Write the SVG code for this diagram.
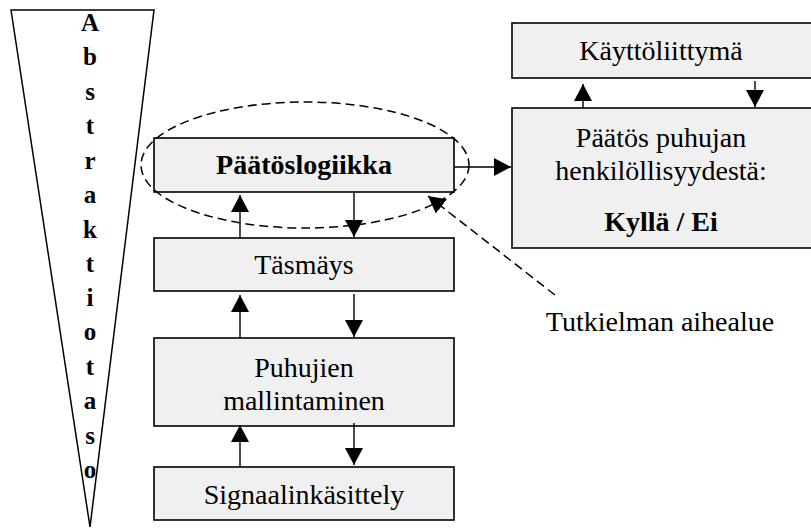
<svg xmlns="http://www.w3.org/2000/svg" width="811" height="528" viewBox="0 0 811 528">
<style>
.box{fill:#f0f0f0;stroke:#000;stroke-width:1.6}
.t{font-family:"Liberation Serif","Times New Roman",serif;font-size:28px;fill:#000;text-anchor:middle}
.b{font-weight:bold}
.v{font-family:"Liberation Serif","Times New Roman",serif;font-size:25px;font-weight:bold;fill:#000;text-anchor:middle}
.ln{stroke:#000;stroke-width:1.4;fill:none}
.dash{stroke:#000;stroke-width:1.5;fill:none;stroke-dasharray:9 5}
</style>
<defs>
<marker id="ah" markerUnits="userSpaceOnUse" markerWidth="18" markerHeight="18" viewBox="0 0 18 18" refX="17" refY="9" orient="auto">
<path d="M0,0 L17,9 L0,18 Z" fill="#000"/>
</marker>
</defs>
<rect width="811" height="528" fill="#fff"/>
<g id="abstraktiotaso">
<polygon points="11,10 154,10 90,527" fill="none" stroke="#000" stroke-width="1.5"/>
<text class="v" x="90" y="31">A</text>
<text class="v" x="90" y="65">b</text>
<text class="v" x="90" y="100">s</text>
<text class="v" x="90" y="134">t</text>
<text class="v" x="90" y="169">r</text>
<text class="v" x="90" y="203">a</text>
<text class="v" x="90" y="238">k</text>
<text class="v" x="90" y="272">t</text>
<text class="v" x="90" y="306">i</text>
<text class="v" x="90" y="340">o</text>
<text class="v" x="90" y="375">t</text>
<text class="v" x="90" y="409">a</text>
<text class="v" x="90" y="444">s</text>
<text class="v" x="90" y="478">o</text>
</g>
<g id="paatoslogiikka">
<rect class="box" x="154" y="138" width="300" height="54"/>
<text class="t b" x="304" y="174">Päätöslogiikka</text>
</g>
<g id="tasmays">
<rect class="box" x="154" y="238" width="300" height="53"/>
<text class="t" x="304" y="274">Täsmäys</text>
</g>
<g id="puhujien-mallintaminen">
<rect class="box" x="154" y="338" width="300" height="88"/>
<text class="t" x="304" y="377">Puhujien</text>
<text class="t" x="304" y="410">mallintaminen</text>
</g>
<g id="signaalinkasittely">
<rect class="box" x="154" y="467" width="300" height="53"/>
<text class="t" x="304" y="504">Signaalinkäsittely</text>
</g>
<g id="kayttoliittyma">
<rect class="box" x="512" y="23" width="302" height="55"/>
<text class="t" x="661" y="60">Käyttöliittymä</text>
</g>
<g id="paatos">
<rect class="box" x="512" y="108" width="302" height="140"/>
<text class="t" x="661" y="147">Päätös puhujan</text>
<text class="t" x="661" y="180">henkilöllisyydestä:</text>
<text class="t b" x="661" y="231">Kyllä / Ei</text>
</g>
<g id="aihealue">
<ellipse class="dash" cx="305" cy="165" rx="164" ry="63"/>
<text class="t" x="660" y="331">Tutkielman aihealue</text>
</g>
<g id="connectors">
<line class="ln" x1="240" y1="238" x2="240" y2="195" marker-end="url(#ah)"/>
<line class="ln" x1="354" y1="193" x2="354" y2="237" marker-end="url(#ah)"/>
<line class="ln" x1="240" y1="338" x2="240" y2="295" marker-end="url(#ah)"/>
<line class="ln" x1="354" y1="294" x2="354" y2="337" marker-end="url(#ah)"/>
<line class="ln" x1="240" y1="467" x2="240" y2="425" marker-end="url(#ah)"/>
<line class="ln" x1="354" y1="423" x2="354" y2="465" marker-end="url(#ah)"/>
<line class="ln" x1="454" y1="167" x2="511" y2="167" marker-end="url(#ah)"/>
<line class="ln" x1="583" y1="108" x2="583" y2="84" marker-end="url(#ah)"/>
<line class="ln" x1="755" y1="81" x2="755" y2="107" marker-end="url(#ah)"/>
<line class="dash" x1="555" y1="295" x2="428" y2="196" marker-end="url(#ah)"/>
</g>
</svg>
